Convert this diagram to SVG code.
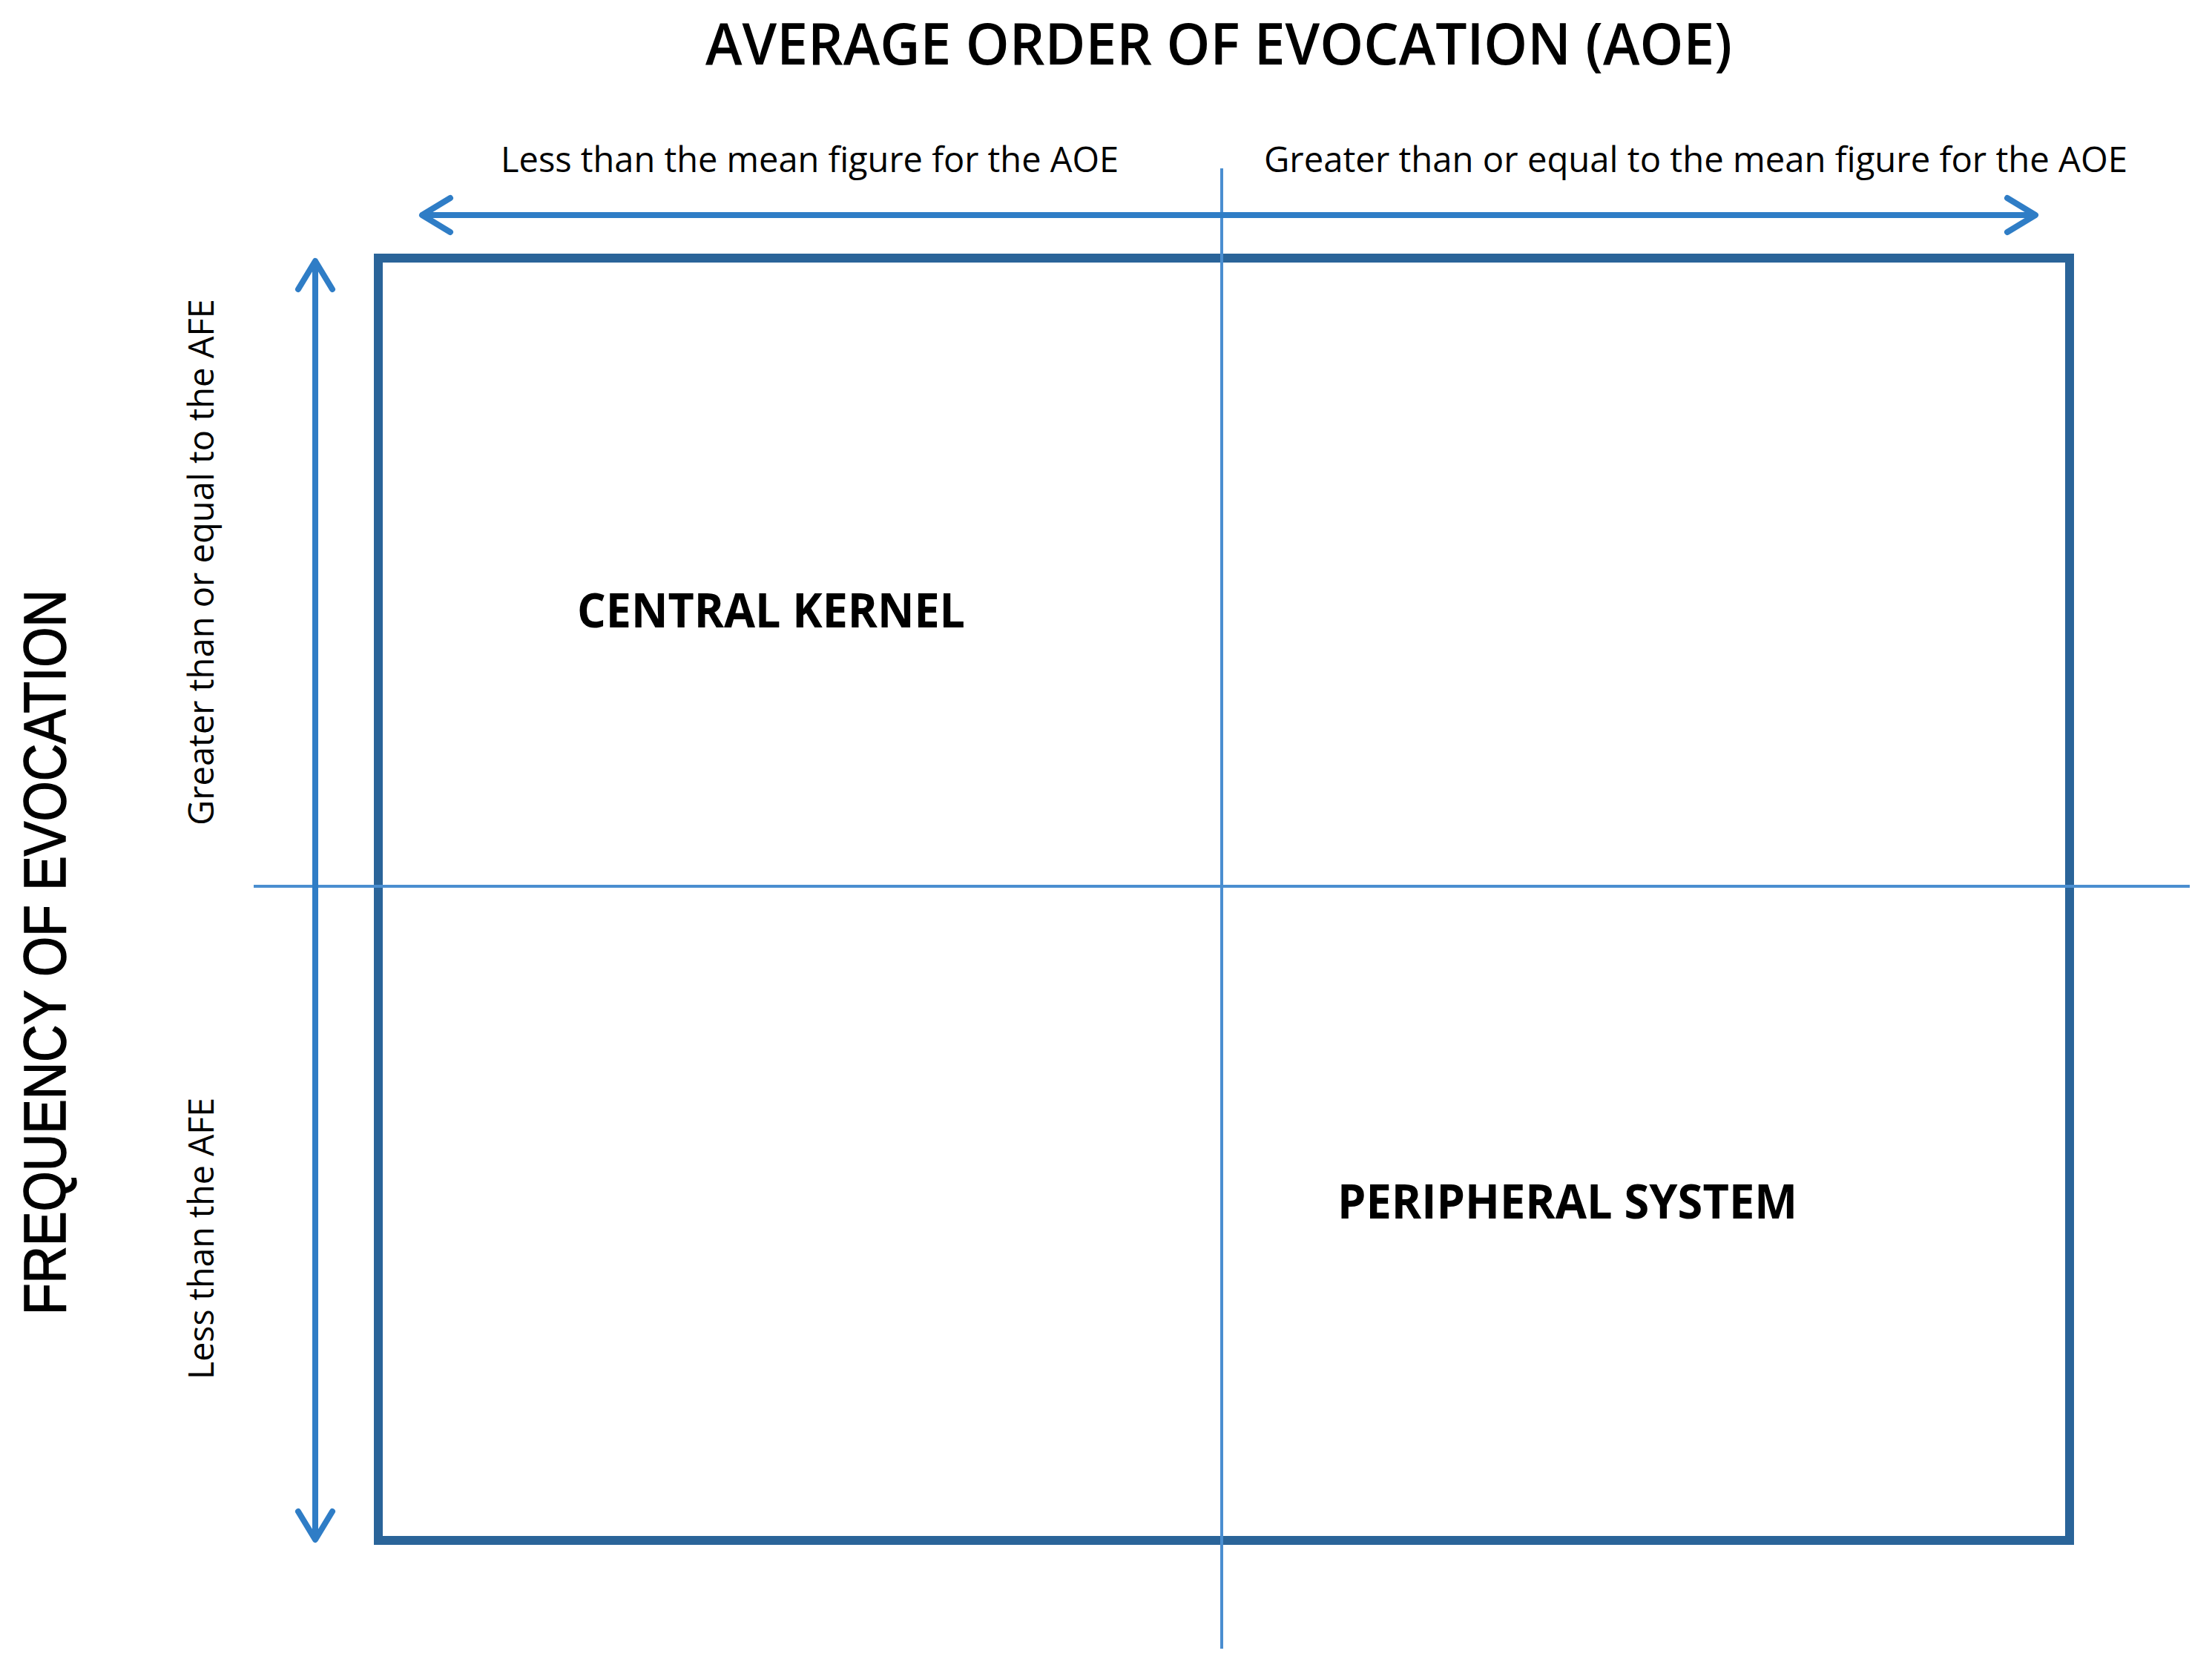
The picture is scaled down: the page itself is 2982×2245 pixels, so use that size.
<svg xmlns="http://www.w3.org/2000/svg" width="2982" height="2245" viewBox="0 0 2982 2245">
<style>
.title{font-family:"Open Sans","Liberation Sans",sans-serif;font-size:78px;font-weight:600;fill:#000}
.sub{font-family:"Open Sans","Liberation Sans",sans-serif;font-size:47px;fill:#000}
.ylab{font-family:"Liberation Sans","Open Sans",sans-serif;font-size:80px;fill:#000;stroke:#000;stroke-width:1.5}
.quad{font-family:"Open Sans","Liberation Sans",sans-serif;font-size:64px;font-weight:bold;fill:#000}
.thin{stroke:#4A8ED0;stroke-width:4;fill:none}
.arrow{stroke:#2F7DC6;stroke-width:8;fill:none}
.frame{stroke:#2A6499;stroke-width:12;fill:none}
</style>
<defs>
<marker id="head" markerUnits="userSpaceOnUse" viewBox="-45 -30 50 60" refX="0" refY="0" markerWidth="50" markerHeight="60" orient="auto-start-reverse">
<path d="M -38 -23 L 0 0 L -38 23" fill="none" stroke="#2F7DC6" stroke-width="8" stroke-linecap="round" stroke-linejoin="round"/>
</marker>
</defs>
<rect width="2982" height="2245" fill="#fff"/>
<g id="title"><text class="title" x="951" y="87" textLength="1384" lengthAdjust="spacingAndGlyphs">AVERAGE ORDER OF EVOCATION (AOE)</text></g>
<g id="xlabels">
<text class="sub" x="675" y="232" textLength="833" lengthAdjust="spacingAndGlyphs">Less than the mean figure for the AOE</text>
<text class="sub" x="1704" y="232" textLength="1164" lengthAdjust="spacingAndGlyphs">Greater than or equal to the mean figure for the AOE</text>
</g>
<g id="ylabels">
<text class="ylab" transform="translate(88,1773) rotate(-90)" x="0" y="0" textLength="978" lengthAdjust="spacingAndGlyphs">FREQUENCY OF EVOCATION</text>
<text class="sub" transform="translate(288,1113) rotate(-90)" x="0" y="0" textLength="710" lengthAdjust="spacingAndGlyphs">Greater than or equal to the AFE</text>
<text class="sub" transform="translate(288,1860) rotate(-90)" x="0" y="0" textLength="380" lengthAdjust="spacingAndGlyphs">Less than the AFE</text>
</g>
<g id="frame"><rect class="frame" x="510" y="348" width="2280" height="1729"/></g>
<g id="connectors">
<line class="thin" x1="1647" y1="227" x2="1647" y2="2223"/>
<line class="thin" x1="342" y1="1195" x2="2952" y2="1195"/>
<line class="arrow" x1="569" y1="290" x2="2744" y2="290" marker-start="url(#head)" marker-end="url(#head)"/>
<line class="arrow" x1="425" y1="352" x2="425" y2="2076" marker-start="url(#head)" marker-end="url(#head)"/>
</g>
<g id="central-kernel"><text class="quad" x="778" y="846" textLength="523" lengthAdjust="spacingAndGlyphs">CENTRAL KERNEL</text></g>
<g id="peripheral-system"><text class="quad" x="1803" y="1643" textLength="620" lengthAdjust="spacingAndGlyphs">PERIPHERAL SYSTEM</text></g>
</svg>
